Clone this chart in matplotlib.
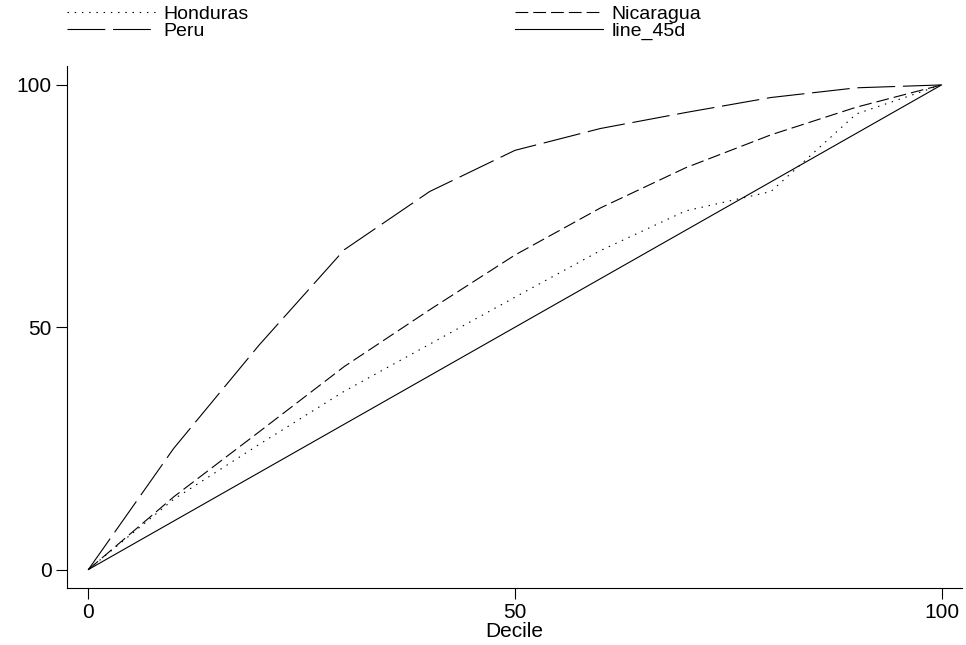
import numpy as np
import matplotlib
matplotlib.use("Agg")
import matplotlib.pyplot as plt

plt.rcParams['font.family'] = ['Liberation Sans', 'DejaVu Sans']

# cumulative share by decile
decile = [0, 10, 20, 30, 40, 50, 60, 70, 80, 90, 100]
honduras = [0, 14.5, 25.8, 36.8, 46.5, 56.2, 65.8, 74, 78, 94, 100]
nicaragua = [0, 15, 28.4, 41.9, 53.6, 64.9, 74.6, 82.9, 89.7, 95.4, 100]
peru = [0, 25, 46.3, 66, 78, 86.5, 91, 94.3, 97.4, 99.4, 100]
line_45d = [0, 10, 20, 30, 40, 50, 60, 70, 80, 90, 100]

fig = plt.figure(figsize=(9.66, 6.45), dpi=100)
ax = fig.add_axes([0.0694, 0.0884, 0.9265, 0.8085])

lw = 0.8
h1, = ax.plot(decile, honduras, color='black', lw=lw, dashes=(1.3, 5.2), label='Honduras')
h2, = ax.plot(decile, nicaragua, color='black', lw=lw, dashes=(11.5, 4.5), label='Nicaragua')
h3, = ax.plot(decile, peru, color='black', lw=lw, dashes=(34, 7), label='Peru')
h4, = ax.plot(decile, line_45d, color='black', lw=lw, label='line_45d')

ax.set_xlim(-2.5, 102.4)
ax.set_ylim(-3.8, 103.8)
ax.set_xticks([0, 50, 100])
ax.set_yticks([0, 50, 100])
ax.tick_params(labelsize=15, length=8, width=0.8, color='black', pad=3)
ax.set_xlabel('Decile', fontsize=15, labelpad=0)
for s in ['top', 'right']:
    ax.spines[s].set_visible(False)
for s in ['left', 'bottom']:
    ax.spines[s].set_linewidth(0.8)

kw = dict(loc='upper left', frameon=False, fontsize=14, handlelength=4.55,
          handletextpad=0.4, labelspacing=-0.02, borderpad=0, borderaxespad=0)
leg1 = fig.legend(handles=[h1, h3], bbox_to_anchor=(67 / 966, 1 - 5 / 645), **kw)
leg2 = fig.legend(handles=[h2, h4], bbox_to_anchor=(515 / 966, 1 - 5 / 645), **kw)

fig.savefig('out.png', dpi=100)
